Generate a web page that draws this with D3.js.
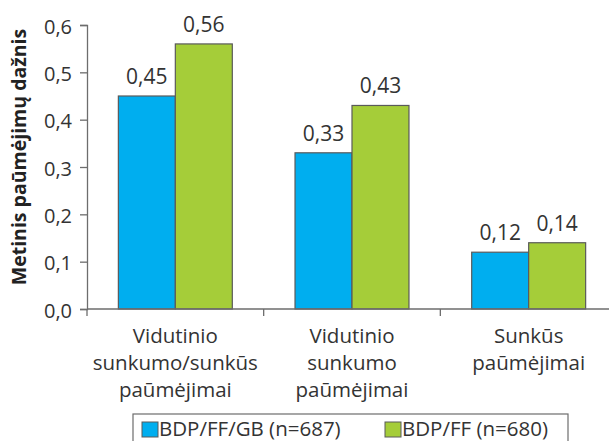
<!DOCTYPE html>
<html>
<head>
<meta charset="utf-8">
<script src="https://cdn.jsdelivr.net/npm/d3@7"></script>
<style>
  html, body { margin: 0; padding: 0; background: #fff; }
  svg { display: block; font-family: "Open Sans", "Noto Sans", sans-serif; }
</style>
</head>
<body>
<svg id="chart" width="609" height="441"></svg>
<script>
// Annual exacerbation rate per treatment group
const categories = [
  ["Vidutinio", "sunkumo/sunkūs", "paūmėjimai"],
  ["Vidutinio", "sunkumo", "paūmėjimai"],
  ["Sunkūs", "paūmėjimai"]
];
const seriesNames = ["BDP/FF/GB (n=687)", "BDP/FF (n=680)"];
const seriesA = [0.45, 0.33, 0.12];
const seriesB = [0.56, 0.43, 0.14];
const yTicks = [0, 0.1, 0.2, 0.3, 0.4, 0.5, 0.6];
const yTitle = "Metinis paūmėjimų dažnis";
const colors = ["#00aeef", "#a5cd39"];

const svg = d3.select("#chart");
const fmt = d => d3.format(".2f")(d).replace(".", ",");
const fmtTick = d => d3.format(".1f")(d).replace(".", ",");

const x0 = d3.scaleBand()
  .domain(d3.range(categories.length))
  .range([87, 617])
  .paddingInner(0.355)
  .paddingOuter(0.1775);
const x1 = d3.scaleBand()
  .domain([0, 1])
  .range([0, x0.bandwidth()]);
const y = d3.scaleLinear().domain([0, 0.6]).range([309, 25]);

// Y axis
const yAxis = d3.axisLeft(y).tickValues(yTicks).tickFormat(fmtTick).tickSize(7).tickPadding(8);
const gy = svg.append("g").attr("transform", "translate(87,0)").call(yAxis);
gy.select(".domain").attr("stroke", "#6d6d6d").attr("stroke-width", 1.3);
gy.selectAll(".tick line").attr("stroke", "#6d6d6d").attr("stroke-width", 1.3);
gy.selectAll(".tick text").attr("fill", "#333").attr("dy", "0.4em").style("font-size", "20px")
  .style("font-family", "'Open Sans', sans-serif");

// Bars
const groups = svg.append("g").selectAll("g")
  .data(categories.map((c, i) => ({ i, vals: [seriesA[i], seriesB[i]] })))
  .join("g")
  .attr("transform", d => `translate(${x0(d.i)},0)`);

groups.selectAll("rect")
  .data(d => d.vals.map((v, s) => ({ v, s })))
  .join("rect")
  .attr("x", d => x1(d.s))
  .attr("y", d => y(d.v))
  .attr("width", x1.bandwidth())
  .attr("height", d => y(0) - y(d.v))
  .attr("fill", d => colors[d.s])
  .attr("stroke", "#5a5a5a")
  .attr("stroke-width", 1.2);

groups.selectAll("text.val")
  .data(d => d.vals.map((v, s) => ({ v, s })))
  .join("text")
  .attr("class", "val")
  .attr("x", d => x1(d.s) + x1.bandwidth() / 2)
  .attr("y", d => y(d.v) - 12)
  .attr("text-anchor", "middle")
  .attr("fill", "#333")
  .style("font-size", "21px")
  .text(d => fmt(d.v));

// X axis line with category separators
const xAxis = svg.append("g");
xAxis.append("line")
  .attr("x1", 87).attr("x2", 609)
  .attr("y1", y(0)).attr("y2", y(0))
  .attr("stroke", "#6d6d6d").attr("stroke-width", 1.3);
const seps = [x0.range()[0]].concat(d3.range(1, categories.length).map(i => x0(i) - x0.step() * x0.paddingInner() / 2));
xAxis.selectAll("line.sep")
  .data(seps)
  .join("line")
  .attr("class", "sep")
  .attr("x1", d => d).attr("x2", d => d)
  .attr("y1", y(0)).attr("y2", y(0) + 7)
  .attr("stroke", "#6d6d6d").attr("stroke-width", 1.3);

// Category labels
const catG = svg.append("g").selectAll("text")
  .data(categories)
  .join("text")
  .attr("text-anchor", "middle")
  .attr("fill", "#333")
  .style("font-size", "20.5px");
catG.each(function (lines, i) {
  d3.select(this).selectAll("tspan")
    .data(lines)
    .join("tspan")
    .attr("x", x0(i) + x0.bandwidth() / 2)
    .attr("y", (d, k) => 343 + k * 27)
    .text(d => d);
});

// Y axis title
svg.append("text")
  .attr("transform", "translate(26,157) rotate(-90)")
  .attr("text-anchor", "middle")
  .attr("fill", "#222")
  .style("font-size", "19.5px")
  .style("font-weight", "bold")
  .text(yTitle);

// Legend
const legend = svg.append("g");
legend.append("rect")
  .attr("x", 133).attr("y", 414).attr("width", 435).attr("height", 40)
  .attr("fill", "none").attr("stroke", "#6d6d6d").attr("stroke-width", 1.2);
const legX = [142, 385];
const items = legend.selectAll("g.item")
  .data(seriesNames)
  .join("g")
  .attr("class", "item")
  .attr("transform", (d, i) => `translate(${legX[i]},422)`);
items.append("rect")
  .attr("width", 16).attr("height", 15)
  .attr("fill", (d, i) => colors[i])
  .attr("stroke", "#5a5a5a").attr("stroke-width", 1);
items.append("text")
  .attr("x", 17).attr("y", 14)
  .attr("fill", "#333")
  .style("font-size", "20.5px")
  .text(d => d);
</script>
</body>
</html>
